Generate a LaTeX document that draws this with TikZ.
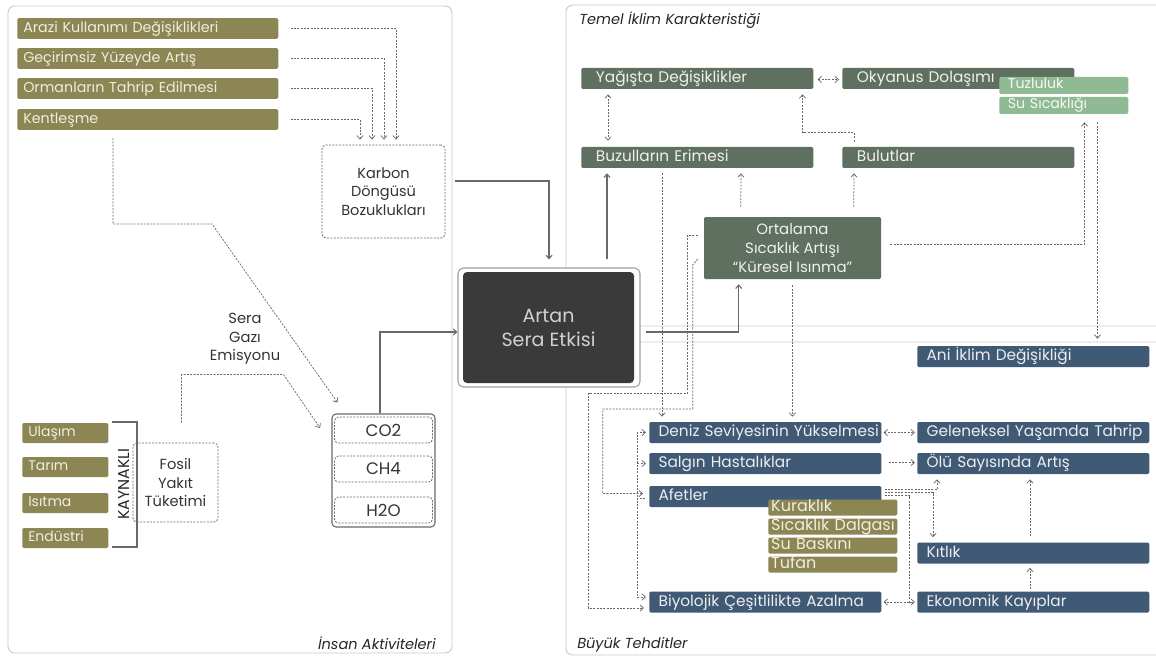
\documentclass[tikz,border=0pt]{standalone}
\usepackage{fontspec}
\setmainfont{Poppins}
\usetikzlibrary{arrows.meta,calc}

\definecolor{olivebar}{RGB}{139,134,83}
\definecolor{olivetext}{RGB}{240,238,222}
\definecolor{climbar}{RGB}{95,111,96}
\definecolor{seabar}{RGB}{143,186,148}
\definecolor{threatbar}{RGB}{64,90,117}
\definecolor{coreblack}{RGB}{58,58,58}
\definecolor{wire}{RGB}{105,105,105}
\definecolor{framegray}{RGB}{200,200,200}

\tikzset{
  pad/.style={execute at begin node={\leavevmode\hspace*{#1}}},
  bar/.style={anchor=west, inner xsep=0pt, inner ysep=0pt, align=left, rounded corners=1pt},
  olive/.style={bar, fill=olivebar, text=olivetext},
  landbar/.style={olive, pad=4.5pt, text width=195.75pt, minimum height=15.4pt, text height=8pt, text depth=2.5pt, font=\fontsize{10.7}{12}\selectfont},
  srcbar/.style={olive, pad=4.5pt, text width=64.5pt, minimum height=15pt, text height=8pt, text depth=2.5pt, font=\fontsize{10.5}{12}\selectfont},
  hazbar/.style={olive, pad=2.2pt, text width=96.75pt, minimum height=12pt, text height=8pt, text depth=2.5pt, font=\fontsize{12}{12}\selectfont},
  climbox/.style={bar, fill=climbar, text=white!90!climbar, pad=11pt, text width=174pt, minimum height=15.75pt, text height=8.5pt, text depth=2.5pt, font=\fontsize{11.5}{12}\selectfont},
  seabox/.style={bar, fill=seabar, text=white!92!seabar, pad=6.5pt, text width=96.75pt, minimum height=12.75pt, text height=7.5pt, text depth=2.5pt, font=\fontsize{10.6}{12}\selectfont},
  threat/.style={bar, fill=threatbar, text=white!90!threatbar, pad=7pt, text width=174pt, minimum height=15.75pt, text height=8.5pt, text depth=2.5pt, font=\fontsize{11.5}{12}\selectfont},
  dashbox/.style={draw=wire, line width=0.6pt, dash pattern=on 1.5pt off 1pt, rounded corners=3pt, inner sep=0pt, align=center, text=black!80},
  panel/.style={draw=framegray, line width=0.7pt, rounded corners=5pt},
  dline/.style={wire, line width=0.55pt, dash pattern=on 1.5pt off 1pt},
  sline/.style={wire, line width=0.8pt},
  paneltitle/.style={font=\fontsize{10.9}{12}\selectfont\itshape, text=black!85, inner sep=0pt}
}

\begin{document}
\begin{tikzpicture}[x=0.75pt, y=-0.75pt, >={Straight Barb[length=2.6pt,width=4.6pt]}]
\useasboundingbox (0,0) rectangle (1156,656);
\clip (0,0) rectangle (1156,656);

% panels
\draw[panel] (8,6) rectangle (452,653);
\draw[panel] (566,5) rectangle (1180,326);
\draw[panel] (566,342) rectangle (1180,655);
\node[paneltitle, anchor=east] (insan) at (436,643) {İnsan Aktiviteleri};
\node[paneltitle, anchor=west] (temel) at (579,20) {Temel İklim Karakteristiği};
\node[paneltitle, anchor=west] (buyuk) at (577,645) {Büyük Tehditler};

% human activities
\node[landbar] (arazi) at (17,28.5) {Arazi Kullanımı Değişiklikleri};
\node[landbar] (gecirim) at (17,58.5) {Geçirimsiz Yüzeyde Artış};
\node[landbar] (orman) at (17,88.5) {Ormanların Tahrip Edilmesi};
\node[landbar] (kent) at (17,119.5) {Kentleşme};
\node[dashbox, minimum width=92.25pt, minimum height=69.75pt, font=\fontsize{10.9}{13.7}\selectfont] (karbon) at (383.5,191.5) {Karbon\\Döngüsü\\Bozuklukları};

\node[srcbar] (ulasim) at (22,433) {Ulaşım};
\node[srcbar] (tarim) at (22,467) {Tarım};
\node[srcbar] (isitma) at (22,503) {Isıtma};
\node[srcbar] (endustri) at (22,538) {Endüstri};
\draw[sline] (112,422) -| (137,547) -- (112,547);
\node[rotate=90, inner sep=0pt, font=\fontsize{11.8}{12}\selectfont, text=black!85] (kaynak) at (124,484) {KAYNAKLI};
\node[dashbox, minimum width=63.75pt, minimum height=59.25pt, font=\fontsize{11}{14}\selectfont] (fosil) at (175.5,482.5) {Fosil\\Yakıt\\Tüketimi};
\node[align=center, inner sep=0pt, font=\fontsize{11}{14}\selectfont, text=black!80] (emisyon) at (245,339) {Sera\\Gazı\\Emisyonu};

\node[draw=wire, line width=0.8pt, rounded corners=3pt, minimum width=77.25pt, minimum height=84.75pt] (gases) at (383.5,470.5) {};
\node[dashbox, minimum width=73.5pt, minimum height=19.5pt, font=\fontsize{12.5}{13}\selectfont] (co2) at (383.5,430) {CO2};
\node[dashbox, minimum width=73.5pt, minimum height=19.5pt, font=\fontsize{12.5}{13}\selectfont] (ch4) at (383.5,469) {CH4};
\node[dashbox, minimum width=73.5pt, minimum height=19.5pt, font=\fontsize{12.5}{13}\selectfont] (h2o) at (383.5,510) {H2O};

% core
\node[fill=white, draw=gray!75, line width=0.8pt, rounded corners=4pt, minimum width=136.5pt, minimum height=89.25pt] (artanframe) at (549,327.5) {};
\node[fill=coreblack, rounded corners=3pt, minimum width=128.25pt, minimum height=83.25pt, inner sep=0pt, align=center, text=white!82!black, font=\fontsize{14.3}{18}\selectfont] (artan) at (548.5,327.5) {Artan\\Sera Etkisi};

% climate characteristics
\node[climbox] (yagis) at (581,78.5) {Yağışta Değişiklikler};
\node[climbox] (okyanus) at (842,78.5) {Okyanus Dolaşımı};
\node[seabox] (tuzlu) at (999,85.5) {Tuzluluk};
\node[seabox] (susicak) at (999,105.5) {Su Sıcaklığı};
\node[climbox] (buzul) at (581,157.5) {Buzulların Erimesi};
\node[climbox] (bulut) at (842,157.5) {Bulutlar};
\node[fill=climbar, rounded corners=1pt, minimum width=132.75pt, minimum height=46.5pt, inner sep=0pt, align=center, text=white!90!climbar, font=\fontsize{11.2}{14}\selectfont] (ortalama) at (792.5,248) {Ortalama\\Sıcaklık Artışı\\“Küresel Isınma”};

% threats
\node[threat] (ani) at (917,356.5) {Ani İklim Değişikliği};
\node[threat] (deniz) at (649,432.5) {Deniz Seviyesinin Yükselmesi};
\node[threat] (gelenek) at (917,432.5) {Geleneksel Yaşamda Tahrip};
\node[threat] (salgin) at (649,463.5) {Salgın Hastalıklar};
\node[threat] (olu) at (917,463.5) {Ölü Sayısında Artış};
\node[threat] (afet) at (649,496.5) {Afetler};
\node[threat] (kitlik) at (917,553) {Kıtlık};
\node[threat] (biyo) at (649,602) {Biyolojik Çeşitlilikte Azalma};
\node[threat] (ekonomik) at (917,602) {Ekonomik Kayıplar};
\node[hazbar] (kurak) at (768,507.5) {Kuraklık};
\node[hazbar] (dalga) at (768,526.5) {Sıcaklık Dalgası};
\node[hazbar] (baskin) at (768,545.5) {Su Baskını};
\node[hazbar] (tufan) at (768,564.5) {Tufan};

% left connectors
\draw[dline,->] ($(arazi.east)+(12,0)$) -| ($(karbon.north)+(12.5,-5)$);
\draw[dline,->] ($(gecirim.east)+(12,0)$) -| ($(karbon.north)+(0.5,-5)$);
\draw[dline,->] ($(orman.east)+(12,0)$) -| ($(karbon.north)+(-11.5,-5)$);
\draw[dline,->] ($(kent.east)+(12,0)$) -| ($(karbon.north)+(-23.5,-5)$);
\draw[dline,->] ($(kent.south west)+(96,8)$) -- ++(0,86) -- ++(99,0) -- ($(gases.north west)+(6,-11)$);
\draw[dline,->] ($(fosil.north)+(6,-20)$) |- ++(102,-48) -- ($(co2.west)+(-14,-2)$);
\draw[sline,->] ($(gases.north)+(-3.5,0)$) |- ($(artanframe.west)+(0,4.5)$);
\draw[sline,->] ($(karbon.east)+(10,-10.5)$) -| ($(artanframe.north)+(0,-8)$);

% climate connectors
\draw[sline,->] ($(artanframe.north)+(58,-8)$) -- ($(buzul.south west)+(26,5)$);
\draw[sline,->] ($(artanframe.east)+(5,4.5)$) -| ($(ortalama.south west)+(35,5)$);
\draw[dline,->] ($(ortalama.north west)+(37,-10)$) -- ($(buzul.south west)+(160,5)$);
\draw[dline,->] ($(ortalama.north west)+(150,-10)$) -- ($(bulut.south west)+(12,5)$);
\draw[dline,->] ($(bulut.north west)+(12,-5)$) -- ++(0,-9) -| ($(yagis.south east)+(-11,5)$);
\draw[dline,<->] ($(yagis.east)+(4,1)$) -- ($(okyanus.west)+(-3,1)$);
\draw[dline,<->] ($(yagis.south west)+(27,5)$) -- ($(buzul.north west)+(27,-6)$);
\draw[dline,->] ($(ortalama.east)+(9,-4)$) -| ($(susicak.south east)+(-44,8)$);
\draw[dline,->] ($(susicak.south east)+(-31,8)$) -- ($(ani.north east)+(-52,-7)$);

% threat connectors
\draw[dline,->] ($(buzul.south west)+(81,5)$) -- ($(deniz.north west)+(13,-5)$);
\draw[dline,->] ($(ortalama.south)+(0,6)$) -- ($(deniz.north west)+(143.5,-5)$);
\draw[dline,->] ($(ortalama.west)+(-6,-13)$) -- ++(-10,0) -- ++(0,158) -- ++(-99,0) |- ($(biyo.west)+(-5,6)$);
\draw[dline,->] ($(ortalama.west)+(-6,11)$) -- ++(-5,6) -- ++(0,144) -- ++(-90,0) |- ($(afet.west)+(-6,-3)$);
\draw[dline,->] ($(afet.west)+(-4,2)$) -- ++(-8,0) |- ($(deniz.west)+(-3,0)$);
\draw[dline,->] ($(afet.west)+(-4,2)$) -- ++(-8,0) |- ($(salgin.west)+(-3,0)$);
\draw[dline,->] ($(afet.west)+(-4,2)$) -- ++(-8,0) |- ($(biyo.west)+(-3,-5)$);
\draw[dline,<->] ($(deniz.east)+(2,0)$) -- ($(gelenek.west)+(-2,0)$);
\draw[dline,->] ($(salgin.east)+(7,-1)$) -- ($(olu.west)+(-2,-1)$);
\draw[dline,->] ($(afet.east)+(3,-7)$) -| ($(olu.south west)+(20,5)$);
\draw[dline,->] ($(afet.east)+(3,-4)$) -| ($(kitlik.north west)+(16,-5)$);
\draw[dline,->] ($(afet.east)+(3,-1)$) -- ++(25,0) |- ($(ekonomik.west)+(-2,0)$);
\draw[dline,->] ($(ekonomik.west)+(-8,0)$) -- ($(biyo.east)+(2,0)$);
\draw[dline,->] ($(kitlik.north west)+(113,-6)$) -- ($(olu.south west)+(113,5)$);
\draw[dline,->] ($(ekonomik.north west)+(113,-2)$) -- ($(kitlik.south west)+(113,4)$);
\end{tikzpicture}
\end{document}
